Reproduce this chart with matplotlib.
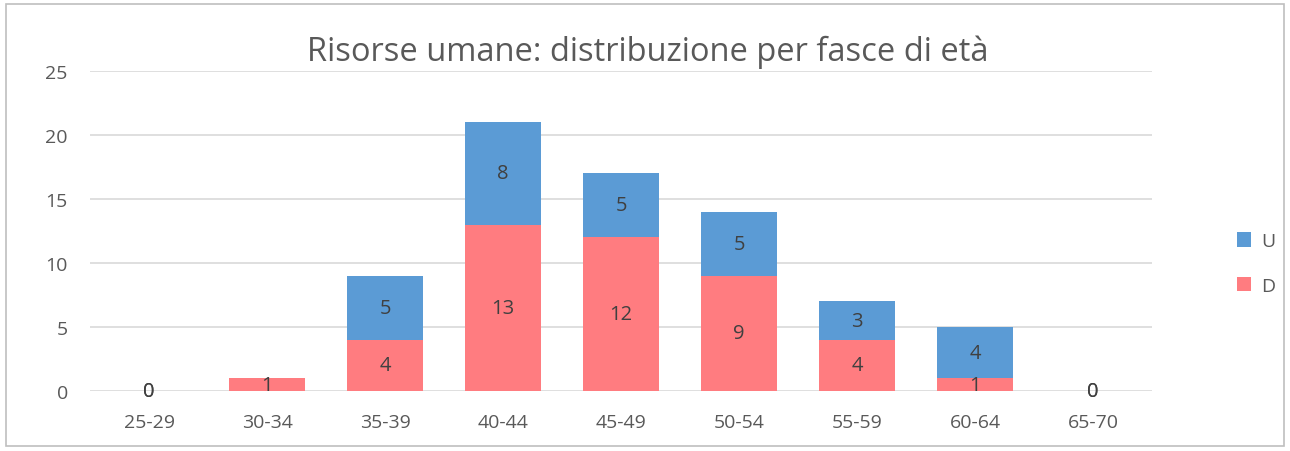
import numpy as np
import matplotlib.pyplot as plt
from matplotlib.patches import Rectangle

# data
fasce = ["25-29", "30-34", "35-39", "40-44", "45-49", "50-54", "55-59", "60-64", "65-70"]
donne = [0, 1, 4, 13, 12, 9, 4, 1, 0]
uomini = [0, 0, 5, 8, 5, 5, 3, 4, 0]

col_d = "#FF7C80"
col_u = "#5B9BD5"
txt = "#595959"

plt.rcParams["font.family"] = ["Open Sans", "DejaVu Sans"]

fig = plt.figure(figsize=(12.9, 4.52), dpi=100)
ax = fig.add_axes([0.0698, 0.1327, 0.8233, 0.708])

x = np.arange(len(fasce))
w = 0.64
bd = ax.bar(x, donne, w, color=col_d, label="D", zorder=2)
bu = ax.bar(x, uomini, w, bottom=donne, color=col_u, label="U", zorder=2)

# data labels
for i in range(len(fasce)):
    d, u = donne[i], uomini[i]
    ax.text(x[i], d / 2, str(d), ha="center", va="center", fontsize=14.5, color="#404040", zorder=3)
    if u > 0 or d == 0:
        ax.text(x[i], d + u / 2, str(u), ha="center", va="center", fontsize=14.5, color="#404040", zorder=3)

ax.set_xlim(-0.5, len(fasce) - 0.5)
ax.set_ylim(0, 25)
ax.set_yticks(range(0, 26, 5))
ax.set_xticks(x)
ax.set_xticklabels(fasce)
ax.yaxis.grid(True, color="#D9D9D9", linewidth=1.2, zorder=0)
for s in ax.spines.values():
    s.set_visible(False)
ax.tick_params(length=0, labelsize=14, colors=txt)
ax.tick_params(axis="x", pad=16)
ax.tick_params(axis="y", pad=16)

# title centred on the whole chart, like Excel does
fig.text(0.502, 0.885, "Risorse umane: distribuzione per fasce di età", fontsize=23.5,
         color=txt, ha="center", va="center")

handles = [bu, bd]
leg = fig.legend(handles, ["U", "D"], loc="center left", bbox_to_anchor=(0.945, 0.415),
                 frameon=False, fontsize=14, handlelength=0.75, handleheight=0.75,
                 labelspacing=1.35, handletextpad=0.5)
for t in leg.get_texts():
    t.set_color(txt)

# chart border
fig.patches.append(Rectangle((0.005, 0.01), 0.99, 0.98, transform=fig.transFigure,
                             fill=False, edgecolor="#BFBFBF", linewidth=1.2))

fig.savefig("out.png", dpi=100)
